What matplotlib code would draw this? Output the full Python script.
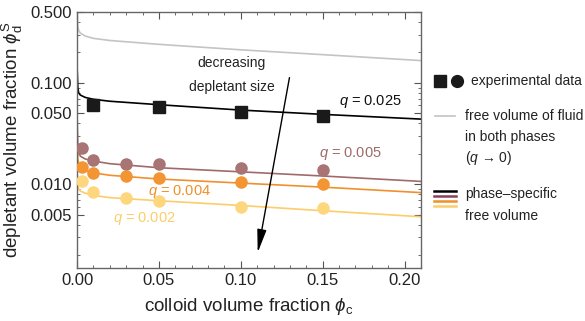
import matplotlib
matplotlib.use("Agg")
import matplotlib.pyplot as plt
from matplotlib.ticker import FixedLocator, LogLocator, NullFormatter, MultipleLocator

plt.rcParams['font.family'] = ['Liberation Sans', 'DejaVu Sans']
plt.rcParams['mathtext.fontset'] = 'custom'
plt.rcParams['mathtext.rm'] = 'Liberation Sans'
plt.rcParams['mathtext.it'] = 'Liberation Sans:italic'

# experimental points
phi_sq = [0.01, 0.05, 0.10, 0.15]
q025_pts = [0.0606, 0.058, 0.0517, 0.047]

phi_dot = [0.003, 0.01, 0.03, 0.05, 0.10, 0.15]
q005_pts = [0.0227, 0.0173, 0.0160, 0.0158, 0.0144, 0.0138]
q004_pts = [0.0147, 0.0129, 0.0120, 0.0115, 0.0105, 0.0100]
q002_pts = [0.0107, 0.0085, 0.0074, 0.0069, 0.0060, 0.0058]

# theory curves
phi_line = [0.0, 0.0005, 0.001, 0.002, 0.005, 0.01, 0.02, 0.05, 0.10, 0.15, 0.21]
free_vol = [0.50, 0.36, 0.33, 0.31, 0.29, 0.275, 0.262, 0.240, 0.212, 0.190, 0.166]
q025_line = [0.15, 0.090, 0.080, 0.076, 0.072, 0.069, 0.066, 0.061, 0.054, 0.049, 0.044]
q005_line = [0.050, 0.024, 0.021, 0.019, 0.0178, 0.0170, 0.0160, 0.0146, 0.0133, 0.0121, 0.0107]
q004_line = [0.030, 0.018, 0.016, 0.0145, 0.0136, 0.0130, 0.0123, 0.0113, 0.0103, 0.0094, 0.0083]
q002_line = [0.014, 0.0098, 0.0090, 0.0086, 0.0082, 0.0078, 0.0074, 0.0069, 0.0062, 0.0055, 0.0048]

c_gray = '#c4c4c4'
c_black = '#000000'
c_brown = '#a06a6a'
c_brown_pt = '#a87474'
c_orange = '#f0902c'
c_orange_pt = '#f29532'
c_yellow = '#fccd6a'
c_yellow_pt = '#fdd67e'

fig = plt.figure(figsize=(5.85, 3.21), dpi=100)
ax = fig.add_axes([77/585, 53/321, 344/585, 256/321])

ax.plot(phi_line, free_vol, color=c_gray, lw=1.2)
ax.plot(phi_line, q025_line, color=c_black, lw=1.2)
ax.plot(phi_line, q005_line, color=c_brown, lw=1.2)
ax.plot(phi_line, q004_line, color=c_orange, lw=1.2)
ax.plot(phi_line, q002_line, color=c_yellow, lw=1.2)

ax.plot(phi_sq, q025_pts, 's', color='#1a1a1a', ms=9, ls='none', zorder=5)
ax.plot(phi_dot, q005_pts, 'o', color=c_brown_pt, ms=8, ls='none', zorder=5)
ax.plot(phi_dot, q004_pts, 'o', color=c_orange_pt, ms=8, ls='none', zorder=5)
ax.plot(phi_dot, q002_pts, 'o', color=c_yellow_pt, ms=8, ls='none', zorder=5)

ax.set_yscale('log')
ax.set_xlim(0, 0.21)
ax.set_ylim(0.0015, 0.5)

ax.xaxis.set_major_locator(FixedLocator([0.0, 0.05, 0.10, 0.15, 0.20]))
ax.xaxis.set_minor_locator(MultipleLocator(0.01))
ax.set_xticklabels(['0.00', '0.05', '0.10', '0.15', '0.20'])
ax.yaxis.set_major_locator(FixedLocator([0.005, 0.01, 0.05, 0.1, 0.5]))
ax.set_yticklabels(['0.005', '0.010', '0.050', '0.100', '0.500'])
ax.yaxis.set_minor_locator(LogLocator(base=10, subs=range(1, 10)))
ax.yaxis.set_minor_formatter(NullFormatter())

ax.tick_params(which='both', direction='in', top=True, right=True, labelsize=12,
               colors='#555555', labelcolor='#222222')
ax.tick_params(which='major', length=5, width=0.8)
ax.tick_params(which='minor', length=2.5, width=0.6)
for s in ax.spines.values():
    s.set_color('#666666')
    s.set_linewidth(1.0)

ax.set_xlabel(r'colloid volume fraction $\phi_\mathrm{c}$', fontsize=13.5, color='#222222', labelpad=6)
ax.set_ylabel(r'depletant volume fraction $\phi_\mathrm{d}^\mathrm{S}$', fontsize=13.5, color='#222222', labelpad=4)

ax.text(0.179, 0.066, r'$q$ = 0.025', fontsize=10.5, color='#111111', ha='center', va='center')
ax.text(0.167, 0.0203, r'$q$ = 0.005', fontsize=10.5, color=c_brown, ha='center', va='center')
ax.text(0.0626, 0.0085, r'$q$ = 0.004', fontsize=10.5, color=c_orange, ha='center', va='center')
ax.text(0.041, 0.0046, r'$q$ = 0.002', fontsize=10.5, color=c_yellow, ha='center', va='center')
ax.text(0.0945, 0.12, 'decreasing\ndepletant size', fontsize=10, color='#222222',
        ha='center', va='center', linespacing=1.9)

ax.annotate('', xy=(0.110, 0.002), xytext=(0.130, 0.12),
            arrowprops=dict(arrowstyle='-|>,head_length=1.4,head_width=0.28', color='black', lw=1.0))

# legend, drawn by hand in figure pixels
lg = fig.add_axes([0, 0, 1, 1], facecolor='none')
lg.set_xlim(0, 585)
lg.set_ylim(321, 0)
lg.axis('off')
lg.plot([440], [81], 's', color='#1a1a1a', ms=8.5)
lg.plot([456.5], [81], 'o', color='#1a1a1a', ms=8.5)
lg.text(471, 81, 'experimental data', fontsize=10, va='center', color='#222222')
lg.plot([435, 455], [116, 116], color=c_gray, lw=1.2)
lg.text(465, 116, 'free volume of fluid', fontsize=10, va='center', color='#222222')
lg.text(465, 137, 'in both phases', fontsize=10, va='center', color='#222222')
lg.text(465, 158, '($q$ \u2192 0)', fontsize=10, va='center', color='#222222')
for yy, cc in zip([191, 196, 201, 206], ['#000000', '#8a3f5e', c_orange, c_yellow]):
    lg.plot([434, 456], [yy, yy], color=cc, lw=1.8)
lg.text(465, 194, 'phase\u2013specific', fontsize=10, va='center', color='#222222')
lg.text(465, 216, 'free volume', fontsize=10, va='center', color='#222222')

fig.savefig('out.png', dpi=100)
